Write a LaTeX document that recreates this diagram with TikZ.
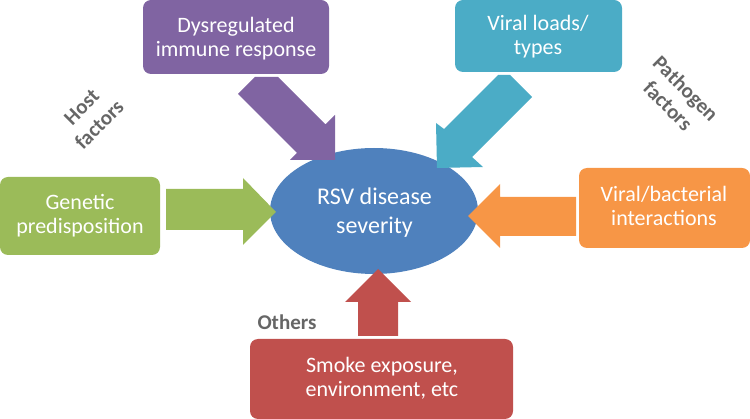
\documentclass[tikz,border=0pt]{standalone}
\usepackage{fontspec}
\setmainfont{Carlito}
\definecolor{cpurple}{HTML}{8064A2}
\definecolor{ccyan}{HTML}{4BACC6}
\definecolor{cgreen}{HTML}{9BBB59}
\definecolor{corange}{HTML}{F79646}
\definecolor{cred}{HTML}{C0504D}
\definecolor{cblue}{HTML}{4F81BD}
\definecolor{cgray}{HTML}{666666}
\begin{document}
\begin{tikzpicture}[x=1pt,y=-1pt,
  boxstyle/.style={rounded corners=8pt},
  boxtext/.style={text=white,align=center,font=\fontsize{22}{24}\selectfont,inner sep=0pt},
  grouplabel/.style={text=cgray,align=center,font=\fontsize{21}{25}\selectfont\bfseries,inner sep=0pt}]
\useasboundingbox (0,0) rectangle (750,419);
% boxes
\fill[boxstyle,cpurple] (143,0) rectangle (329,74);
\fill[boxstyle,ccyan] (455,0) rectangle (622,72);
\fill[boxstyle,cgreen] (0,177) rectangle (160,255);
\fill[boxstyle,corange] (579,168) rectangle (750,248);
\fill[boxstyle,cred] (250,339) rectangle (513,419);
% centre ellipse
\fill[cblue] (374,211) ellipse [x radius=104, y radius=63];
\node[text=white,align=center,font=\fontsize{24}{29}\selectfont,inner sep=0pt] (rsv) at (374.5,212.5) {RSV disease\\severity};
% block arrows
\fill[cpurple] (238,94) -- (255,77) -- (278,77) -- (325.5,124.5) -- (335,115) -- (335,160) -- (290,160) -- (297,153) -- cycle;
\fill[ccyan] (498,75) -- (510,75) -- (532,97) -- (472,157) -- (483,167) -- (437,168) -- (436,123) -- (444,129) -- cycle;
\fill[cgreen] (166,189) -- (243,189) -- (243,178) -- (276,212) -- (243,245) -- (243,230) -- (166,230) -- cycle;
\fill[corange] (576,197) -- (500,197) -- (500,184) -- (468,216) -- (500,248) -- (500,236) -- (576,236) -- cycle;
\fill[cred] (358,336) -- (358,302) -- (345,302) -- (378,269) -- (411,302) -- (398,302) -- (398,336) -- cycle;
% box texts
\node[boxtext] (immune) at (236,38.5) {Dysregulated\\immune response};
\node[boxtext] (viral) at (538,37) {Viral loads/\\types};
\node[boxtext] (genetic) at (80,216) {Genetic\\predisposition};
\node[boxtext] (bact) at (664,206) {Viral/bacterial\\interactions};
\node[boxtext] (smoke) at (382,378.5) {Smoke exposure,\\environment, etc};
% group labels
\node[grouplabel,rotate=45] (host) at (90.5,116) {Host\\factors};
\node[grouplabel,rotate=-45] (path) at (677,97) {Pathogen\\factors};
\node[grouplabel] (others) at (287,322) {Others};
\end{tikzpicture}
\end{document}
